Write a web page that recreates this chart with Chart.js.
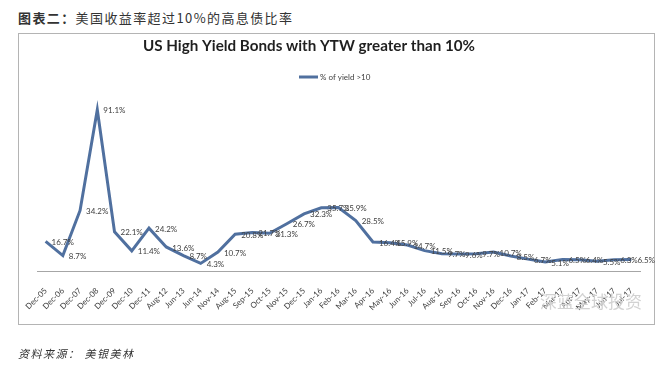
<!DOCTYPE html>
<html>
<head>
<meta charset="utf-8">
<script src="https://cdn.jsdelivr.net/npm/chart.js@4"></script>
<style>
  html,body{margin:0;padding:0;background:#fff;}
  body{width:672px;height:379px;position:relative;overflow:hidden;}
  #frame{position:absolute;left:18px;top:33px;width:635px;height:290px;border:1px solid #b4b4b4;box-sizing:content-box;}
  canvas{position:absolute;left:0;top:0;}
  #head{position:absolute;left:18px;top:8px;font-family:"Noto Sans CJK SC";font-size:13px;letter-spacing:1.4px;color:#333;white-space:nowrap;}
  #head b{font-weight:700;}
  #foot{position:absolute;left:18px;top:345px;font-family:"Noto Sans CJK SC";font-size:11px;letter-spacing:1.5px;color:#333;font-style:italic;white-space:nowrap;}
  #wm{position:absolute;left:540px;top:288px;font-family:"Noto Sans CJK SC";font-size:17px;color:#d2d2d2;white-space:nowrap;}
</style>
</head>
<body>
<div id="head"><b>图表二：</b>美国收益率超过10%的高息债比率</div>
<div id="frame"></div>
<canvas id="c" width="672" height="379"></canvas>
<div id="wm">深蓝全球投资</div>
<div id="foot">资料来源： 美银美林</div>
<script>
const categories = ['Dec-05','Dec-06','Dec-07','Dec-08','Dec-09','Dec-10','Dec-11','Aug-12','Jun-13','Jun-14','Nov-14','Aug-15','Sep-15','Oct-15','Nov-15','Dec-15','Jan-16','Feb-16','Mar-16','Apr-16','May-16','Jun-16','Jul-16','Aug-16','Sep-16','Oct-16','Nov-16','Dec-16','Jan-17','Feb-17','Mar-17','Apr-17','May-17','Jun-17','Jul-17'];
const yieldAbove10 = [16.7,8.7,34.2,91.1,22.1,11.4,24.2,13.6,8.7,4.3,10.7,20.8,21.7,21.3,26.7,32.3,35.7,35.9,28.5,16.4,15.9,14.7,11.5,9.7,9.6,9.7,10.7,8.5,6.7,5.1,6.5,6.4,5.5,6.3,6.5];
const seriesName = '% of yield >10';
const chartTitle = 'US High Yield Bonds with YTW greater than 10%';

const lineColor = '#50709f';

const decorPlugin = {
  id: 'decor',
  afterDraw(chart) {
    const ctx = chart.ctx;
    ctx.save();
    // title
    ctx.font = 'bold 15.2px Lato';
    ctx.fillStyle = '#1f1f1f';
    ctx.textAlign = 'center';
    ctx.textBaseline = 'middle';
    ctx.fillText(chartTitle, 309, 46);
    // legend
    ctx.strokeStyle = lineColor;
    ctx.lineWidth = 3;
    ctx.beginPath();
    ctx.moveTo(299, 77);
    ctx.lineTo(318, 77);
    ctx.stroke();
    ctx.font = '8px Lato';
    ctx.fillStyle = '#404040';
    ctx.textAlign = 'left';
    ctx.fillText(seriesName, 320, 77);
    // data labels
    const meta = chart.getDatasetMeta(0);
    ctx.font = '8px Lato';
    ctx.fillStyle = '#404040';
    ctx.textAlign = 'left';
    ctx.textBaseline = 'middle';
    meta.data.forEach((pt, i) => {
      const v = chart.data.datasets[0].data[i];
      ctx.fillText(v.toFixed(1) + '%', pt.x + 6, pt.y + 1);
    });
    ctx.restore();
  }
};

new Chart(document.getElementById('c'), {
  type: 'line',
  data: {
    labels: categories,
    datasets: [{
      label: seriesName,
      data: yieldAbove10,
      borderColor: lineColor,
      backgroundColor: lineColor,
      borderWidth: 3,
      pointRadius: 0,
      tension: 0
    }]
  },
  options: {
    responsive: false,
    animation: false,
    devicePixelRatio: 1,
    layout: { padding: { left: 37, right: 32, top: 94, bottom: 68 } },
    plugins: { legend: { display: false }, title: { display: false }, tooltip: { enabled: false } },
    scales: {
      x: {
        offset: true,
        grid: { display: false },
        border: { display: true, color: '#a6a6a6', width: 1 },
        ticks: {
          autoSkip: false,
          minRotation: 45,
          maxRotation: 45,
          padding: 7,
          color: '#404040',
          font: { family: 'Lato', size: 8 }
        },
        afterFit(scale) { scale.height = 40; }
      },
      y: {
        display: false,
        min: 0,
        max: 100
      }
    }
  },
  plugins: [decorPlugin]
});
</script>
</body>
</html>
